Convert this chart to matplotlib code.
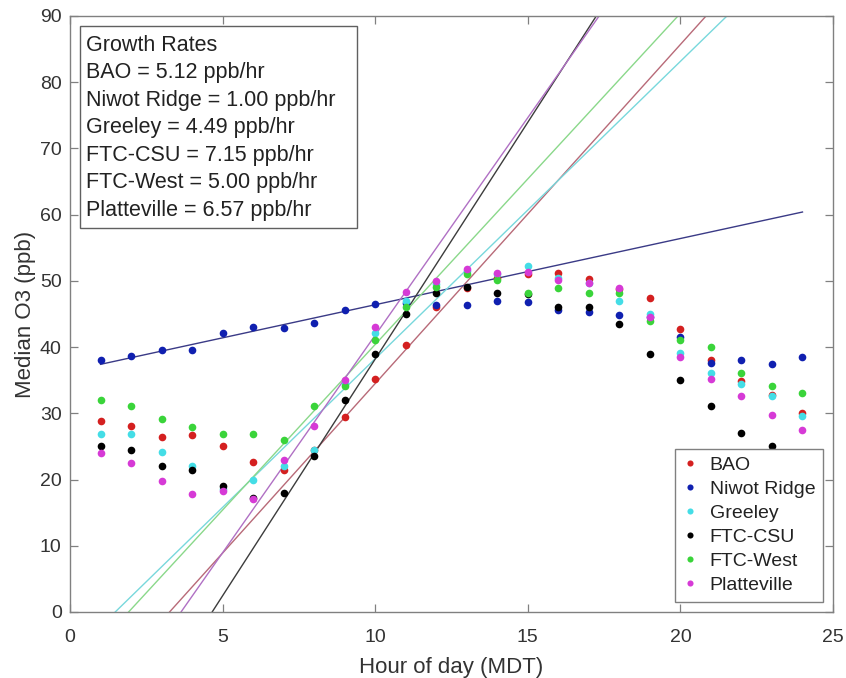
import matplotlib
matplotlib.use("Agg")
import matplotlib.pyplot as plt
from matplotlib.patches import Rectangle
import numpy as np

plt.rcParams['font.family'] = ['Liberation Sans', 'DejaVu Sans']

hours = list(range(1, 25))

sites = ["BAO", "Niwot Ridge", "Greeley", "FTC-CSU", "FTC-West", "Platteville"]

bao = [28.9, 28.1, 26.4, 26.7, 25.1, 22.6, 21.4, 24.4, 29.4, 35.2, 40.3, 46.0,
       49.0, 50.5, 51.0, 51.2, 50.3, 48.8, 47.4, 42.8, 38.1, 34.9, 32.8, 30.0]
niwot = [38.1, 38.7, 39.5, 39.5, 42.1, 43.1, 42.9, 43.7, 45.6, 46.5, 46.6, 46.3,
         46.4, 46.9, 46.8, 45.6, 45.3, 44.8, 44.5, 41.6, 37.6, 38.1, 37.5, 38.5]
greeley = [26.9, 26.9, 24.1, 22.1, 18.6, 20.0, 22.0, 24.5, 34.5, 42.1, 47.0, 49.5,
           51.5, 51.0, 52.2, 50.5, 49.7, 46.9, 45.0, 39.1, 36.1, 34.5, 32.6, 29.6]
ftc_csu = [25.0, 24.5, 22.0, 21.5, 19.1, 17.2, 18.0, 23.5, 32.0, 39.0, 45.0, 48.1,
           49.1, 48.1, 48.0, 46.0, 46.1, 43.5, 38.9, 35.1, 31.1, 27.0, 25.1, 22.0]
ftc_west = [32.0, 31.1, 29.1, 28.0, 26.9, 26.9, 26.0, 31.1, 34.1, 41.1, 46.1, 49.1,
            51.0, 50.1, 48.1, 49.0, 48.1, 48.1, 43.9, 41.0, 40.0, 36.1, 34.1, 33.1]
platteville = [24.0, 22.5, 19.8, 17.8, 18.2, 17.0, 22.9, 28.1, 35.1, 43.1, 48.3, 50.0,
               51.8, 51.2, 51.3, 50.2, 49.7, 49.0, 44.5, 38.5, 35.2, 32.6, 29.8, 27.5]

# linear fits: slope (ppb/hr) and intercept (ppb)
fit_slopes = [5.12, 1.00, 4.49, 7.15, 5.00, 6.57]
fit_intercepts = [-16.7, 36.4, -6.65, -33.3, -9.6, -23.9]

series = [bao, niwot, greeley, ftc_csu, ftc_west, platteville]
colors = ["#d42020", "#1020b0", "#44dde6", "#000000", "#3ad43a", "#d63ad6"]
line_colors = ["#b86a78", "#3a3a86", "#78d8dc", "#3c3c3c", "#8ad88a", "#b070c4"]

fig = plt.figure(figsize=(8.46, 6.78), dpi=100)
ax = fig.add_axes([70/846, 1-612/678, 763/846, 596/678])

h = np.array(hours)
for vals, c, name in zip(series, colors, sites):
    ax.plot(h, vals, 'o', color=c, markersize=5.5, markeredgewidth=0, label=name, zorder=3)

for m, b, lc in zip(fit_slopes, fit_intercepts, line_colors):
    ax.plot(h, m*h + b, '-', color=lc, linewidth=1.0, zorder=2)

ax.set_xlim(0, 25)
ax.set_ylim(0, 90)
ax.set_xticks([0, 5, 10, 15, 20, 25])
ax.set_yticks(list(range(0, 91, 10)))
ax.tick_params(direction='in', top=True, right=True, length=6, width=0.9,
               color='#808080', labelsize=14, labelcolor='#333333')
ax.tick_params(axis='x', pad=12)
ax.tick_params(axis='y', pad=6)
for s in ax.spines.values():
    s.set_color('#808080')
    s.set_linewidth(1.0)

ax.set_xlabel("Hour of day (MDT)", fontsize=16, color='#333333', labelpad=8)
ax.set_ylabel("Median O3 (ppb)", fontsize=16, color='#333333', labelpad=3)

leg = ax.legend(loc='lower right', bbox_to_anchor=(0.987, 0.017), borderaxespad=0,
                fontsize=14, frameon=True, fancybox=False, framealpha=1,
                edgecolor='#808080', handlelength=0.8, handletextpad=0.6,
                labelspacing=0.33, markerscale=0.8, borderpad=0.4)
leg.get_frame().set_linewidth(1.0)
for t in leg.get_texts():
    t.set_color('#222222')

# growth-rate text box
ax.add_patch(Rectangle((0.013, 0.644), 0.363, 0.339, transform=ax.transAxes,
                       facecolor='white', edgecolor='#606060', linewidth=1.0, zorder=5))
lines = ["Growth Rates"] + [f"{n} = {s:.2f} ppb/hr" for n, s in zip(sites, fit_slopes)]
y0 = 0.951
for i, txt in enumerate(lines):
    ax.text(0.021, y0 - i*0.0461, txt, transform=ax.transAxes, fontsize=15.5,
            color='#222222', va='center', ha='left', zorder=6)

fig.savefig("out.png", dpi=100)
